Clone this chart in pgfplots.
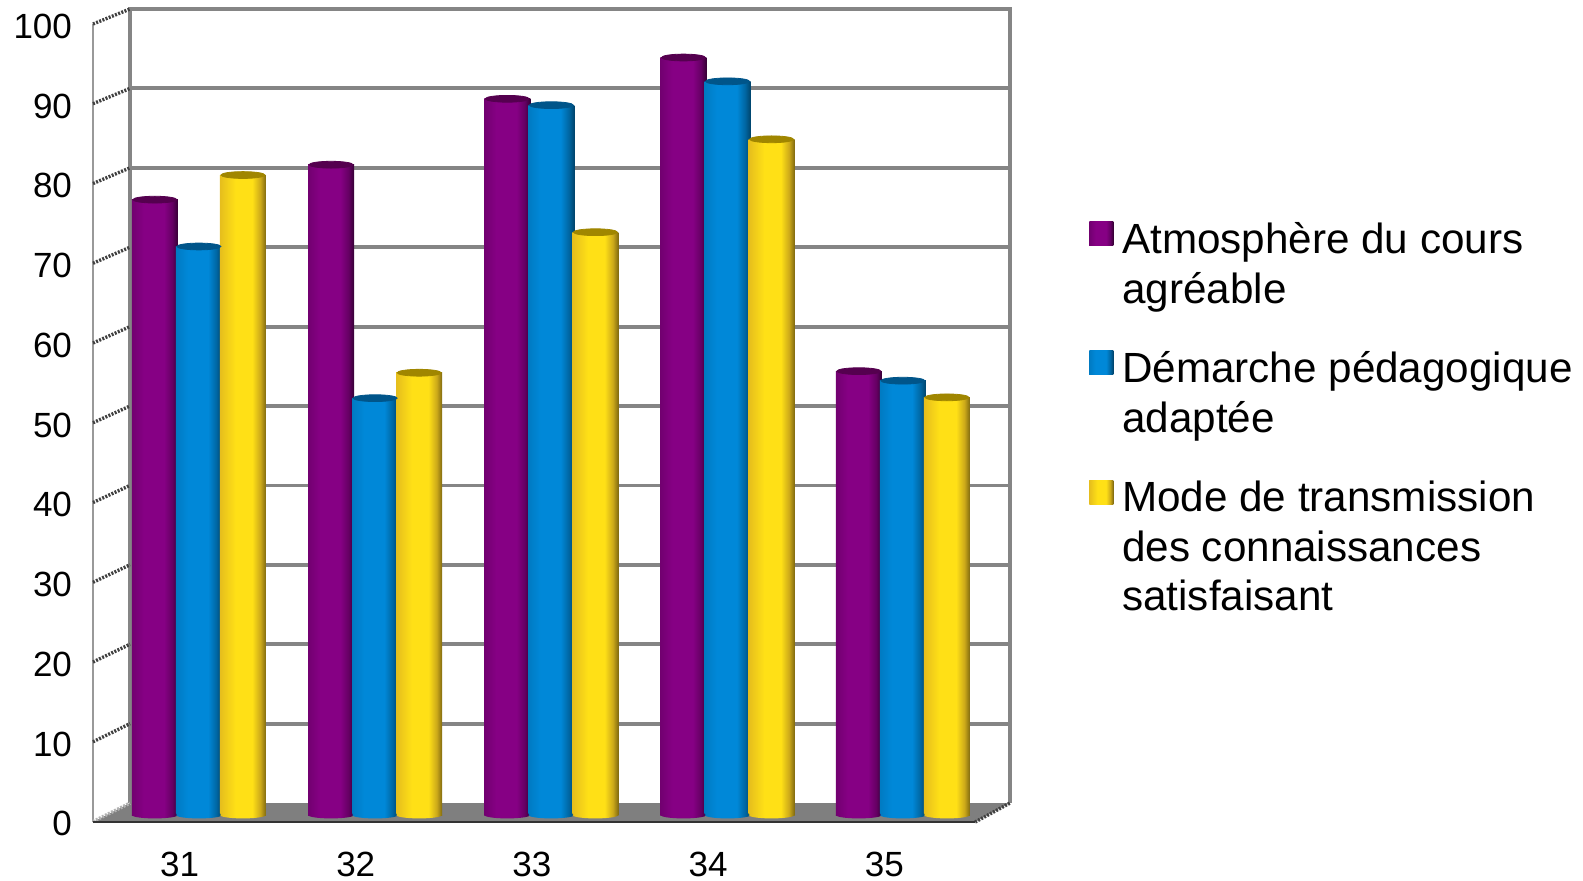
\documentclass[border=0pt]{standalone}
\usepackage{pgfplots}
\pgfplotsset{compat=1.18}
\usepackage{fontspec}
\setmainfont{Liberation Sans}
\definecolor{gridgray}{HTML}{858585}
\definecolor{floorgray}{HTML}{7F7F7F}
\definecolor{capP}{HTML}{55004F}
\definecolor{capB}{HTML}{00558A}
\definecolor{capY}{HTML}{A08600}
\definecolor{colP}{HTML}{860084}
\definecolor{colB}{HTML}{0088D8}
\definecolor{colY}{HTML}{FFD320}
\pgfdeclarehorizontalshading{cylP}{100bp}{color(0bp)=(colP!85!black);color(25bp)=(colP!85!black);color(38bp)=(colP);color(60bp)=(colP);color(69bp)=(colP!75!black);color(75bp)=(colP!40!black);color(100bp)=(colP!40!black)}
\pgfdeclarehorizontalshading{cylB}{100bp}{color(0bp)=(colB!90!black);color(25bp)=(colB!90!black);color(38bp)=(colB);color(60bp)=(colB);color(69bp)=(colB!75!black);color(75bp)=(colB!50!black);color(100bp)=(colB!50!black)}
\pgfdeclarehorizontalshading{cylY}{100bp}{color(0bp)=(colY!90!black);color(25bp)=(colY!90!black);color(42bp)=(colY!70!yellow);color(60bp)=(colY!70!yellow);color(69bp)=(colY!80!black);color(75bp)=(colY!50!black);color(100bp)=(colY!50!black)}
\pgfdeclareplotmark{topP}{\fill[capP,rotate=3] (0pt,0pt) ellipse [x radius=11pt,y radius=1.7pt];}
\pgfdeclareplotmark{topB}{\fill[capB,rotate=3] (0pt,0pt) ellipse [x radius=11pt,y radius=1.7pt];}
\pgfdeclareplotmark{topY}{\fill[capY,rotate=3] (0pt,0pt) ellipse [x radius=11pt,y radius=1.7pt];}
\pgfdeclareplotmark{botP}{\shade[shading=cylP,draw=none] (0pt,0pt) ellipse [x radius=11.5pt,y radius=1.7pt];}
\pgfdeclareplotmark{botB}{\shade[shading=cylB,draw=none] (0pt,0pt) ellipse [x radius=11.5pt,y radius=1.7pt];}
\pgfdeclareplotmark{botY}{\shade[shading=cylY,draw=none] (0pt,0pt) ellipse [x radius=11.5pt,y radius=1.7pt];}
% one cylinder: series letter, x, value, extra options
\newcommand\cyl[4]{%
  \addplot[forget plot,only marks,mark=bot#1,mark options={draw=none}] coordinates {(#2,0)};
  \addplot[ybar,bar width=23pt,bar shift=0pt,draw=none,shade,shading=cyl#1,#4] coordinates {(#2,#3)};
  \addplot[forget plot,only marks,mark=top#1] coordinates {(#2,#3)};
}
\pgfplotsset{slant/.style={forget plot,black!75,line width=1.7pt,dash pattern=on 1pt off 0.7pt},
  gl/.style={forget plot,gridgray,line width=1.9pt}}
\begin{document}
\begin{tikzpicture}
\useasboundingbox (0pt,0pt) rectangle (791.5pt,440pt);
\begin{axis}[
  at={(46.5pt,29pt)}, anchor=south west,
  scale only axis, width=458.5pt, height=406.5pt,
  xmin=-0.601, xmax=4.603, ymin=-0.88, ymax=101.51,
  clip=false, enlargelimits=false,
  axis line style={draw=none}, tick style={draw=none},
  major tick length=0pt,
  /pgf/number format/assume math mode=true,
  xtick={-0.11,0.89,1.89,2.89,3.89},
  xticklabels={31,32,33,34,35},
  ytick={-0.82,9.22,19.27,29.31,39.36,49.40,59.44,69.49,79.53,89.58,99.62},
  yticklabels={0,10,20,30,40,50,60,70,80,90,100},
  tick label style={font=\fontsize{17.5}{21}\selectfont},
  xticklabel style={inner sep=0pt,yshift=-15pt},
  yticklabel style={xshift=-7pt,yshift=-1.2pt},
  legend cell align=left,
  legend style={at={(1.086,0.739)},anchor=north west,draw=none,fill=none,
    inner sep=0pt,nodes={inner sep=0pt},column sep=4.5pt,row sep=47.1pt,
    font=\fontsize{21.1}{24.75}\selectfont},
]
% floor
\addplot[forget plot,fill=floorgray,draw=none] coordinates {(-0.601,-0.88)(-0.391,1.51)(4.603,1.51)(4.405,-0.88)} --cycle;
% back grid
\addplot[gl] coordinates {(-0.391,11.51)(4.603,11.51)};
\addplot[gl] coordinates {(-0.391,21.51)(4.603,21.51)};
\addplot[gl] coordinates {(-0.391,31.51)(4.603,31.51)};
\addplot[gl] coordinates {(-0.391,41.51)(4.603,41.51)};
\addplot[gl] coordinates {(-0.391,51.51)(4.603,51.51)};
\addplot[gl] coordinates {(-0.391,61.51)(4.603,61.51)};
\addplot[gl] coordinates {(-0.391,71.51)(4.603,71.51)};
\addplot[gl] coordinates {(-0.391,81.51)(4.603,81.51)};
\addplot[gl] coordinates {(-0.391,91.51)(4.603,91.51)};
\addplot[gl] coordinates {(-0.391,101.51)(4.603,101.51)};
% walls
\addplot[forget plot,gridgray,line width=2.1pt] coordinates {(-0.391,1.51)(-0.391,101.71)};
\addplot[forget plot,gridgray,line width=2.1pt] coordinates {(4.603,1.51)(4.603,101.71)};
\addplot[forget plot,gray!80,line width=0.8pt] coordinates {(-0.601,-0.88)(-0.601,99.62)};
% slanted ticks
\addplot[slant,white!70!black] coordinates {(-0.601,-0.82)(-0.391,1.51)};
\addplot[slant] coordinates {(-0.601,9.22)(-0.391,11.51)};
\addplot[slant] coordinates {(-0.601,19.27)(-0.391,21.51)};
\addplot[slant] coordinates {(-0.601,29.31)(-0.391,31.51)};
\addplot[slant] coordinates {(-0.601,39.36)(-0.391,41.51)};
\addplot[slant] coordinates {(-0.601,49.40)(-0.391,51.51)};
\addplot[slant] coordinates {(-0.601,59.44)(-0.391,61.51)};
\addplot[slant] coordinates {(-0.601,69.49)(-0.391,71.51)};
\addplot[slant] coordinates {(-0.601,79.53)(-0.391,81.51)};
\addplot[slant] coordinates {(-0.601,89.58)(-0.391,91.51)};
\addplot[slant] coordinates {(-0.601,99.62)(-0.391,101.51)};
\addplot[slant] coordinates {(4.405,-0.88)(4.603,1.51)};
% front bottom edge
\addplot[forget plot,black!80,line width=1pt] coordinates {(-0.601,-0.88)(4.405,-0.88)};
% purple
\cyl{P}{-0.25}{77.5}{legend image code/.code={\fill[colP] (0pt,-3pt) rectangle (12pt,9pt);}}
\addlegendentry{\parbox[t]{240pt}{Atmosphère du cours\\agréable}}
\cyl{P}{0.75}{81.9}{forget plot}
\cyl{P}{1.75}{90.2}{forget plot}
\cyl{P}{2.75}{95.4}{forget plot}
\cyl{P}{3.745}{55.9}{forget plot}
% blue
\cyl{B}{0}{71.6}{legend image code/.code={\fill[colB] (0pt,-3pt) rectangle (12pt,9pt);}}
\addlegendentry{\parbox[t]{240pt}{Démarche pédagogique\\adaptée}}
\cyl{B}{1}{52.5}{forget plot}
\cyl{B}{2}{89.4}{forget plot}
\cyl{B}{3}{92.4}{forget plot}
\cyl{B}{3.995}{54.7}{forget plot}
% yellow
\cyl{Y}{0.25}{80.6}{legend image code/.code={\fill[colY] (0pt,-3pt) rectangle (12pt,9pt);}}
\addlegendentry{\parbox[t]{240pt}{Mode de transmission\\des connaissances\\satisfaisant}}
\cyl{Y}{1.25}{55.7}{forget plot}
\cyl{Y}{2.25}{73.4}{forget plot}
\cyl{Y}{3.25}{85.1}{forget plot}
\cyl{Y}{4.245}{52.6}{forget plot}
\end{axis}
\end{tikzpicture}
\end{document}
